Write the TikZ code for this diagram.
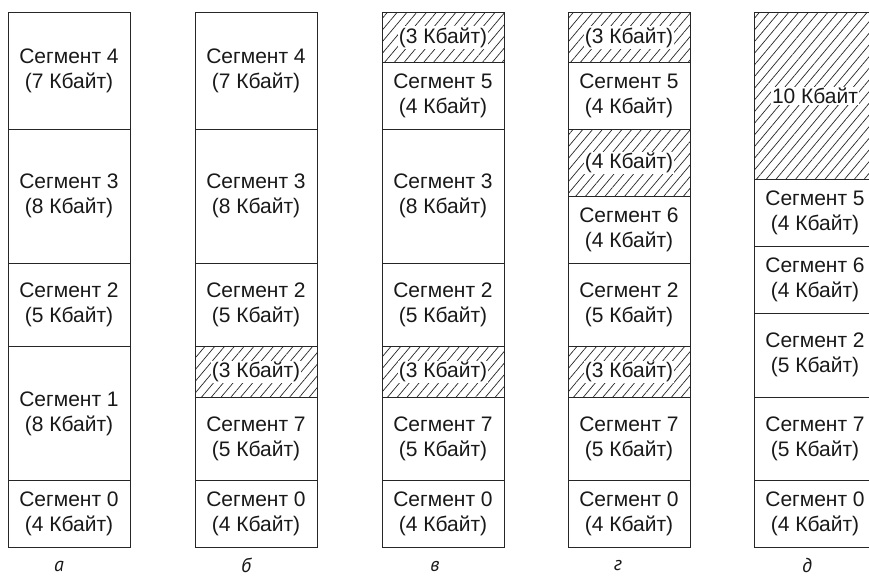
\documentclass[tikz,border=0pt]{standalone}
\usepackage{fontspec}
\setmainfont{Liberation Sans}
\newfontfamily\lblfont{PT Sans}
\usetikzlibrary{patterns.meta}
\tikzset{
  seg/.style={draw=black!85, line width=0.8pt, minimum width=122pt, inner sep=0pt,
    align=center, anchor=north, text=black!90, font=\fontsize{21}{25}\selectfont},
  hole/.style={seg, pattern={Lines[angle=50,distance=7.5pt,line width=0.7pt]}, pattern color=black!85},
  holetext/.style={fill=white, inner sep=1.2pt, text=black!90, font=\fontsize{21}{25}\selectfont},
  caption/.style={text=black!90, font=\lblfont\itshape\fontsize{20}{24}\selectfont}
}
\newcommand\putseg[5]{\node[seg, minimum height={#4*16.72pt}] (#1) at ({#2+61},{12+#3*16.72}) {#5};}
\newcommand\puthole[5]{\node[hole, minimum height={#4*16.72pt}] (#1) at ({#2+61},{12+#3*16.72}) {};
  \node[holetext] (#1t) at (#1.center) {#5};}
\begin{document}
\begin{tikzpicture}[x=1pt,y=-1pt]
\useasboundingbox (0,0) rectangle (869,579);
\fill[white] (0,0) rectangle (869,579);
\clip (0,0) rectangle (869,579);
% column a
\putseg{a4}{8}{0}{7}{Сегмент 4\\(7 Кбайт)}
\putseg{a3}{8}{7}{8}{Сегмент 3\\(8 Кбайт)}
\putseg{a2}{8}{15}{5}{Сегмент 2\\(5 Кбайт)}
\putseg{a1}{8}{20}{8}{Сегмент 1\\(8 Кбайт)}
\putseg{a0}{8}{28}{4}{Сегмент 0\\(4 Кбайт)}
% column b
\putseg{b4}{195}{0}{7}{Сегмент 4\\(7 Кбайт)}
\putseg{b3}{195}{7}{8}{Сегмент 3\\(8 Кбайт)}
\putseg{b2}{195}{15}{5}{Сегмент 2\\(5 Кбайт)}
\puthole{bh}{195}{20}{3}{(3 Кбайт)}
\putseg{b7}{195}{23}{5}{Сегмент 7\\(5 Кбайт)}
\putseg{b0}{195}{28}{4}{Сегмент 0\\(4 Кбайт)}
% column c
\puthole{ch1}{382}{0}{3}{(3 Кбайт)}
\putseg{c5}{382}{3}{4}{Сегмент 5\\(4 Кбайт)}
\putseg{c3}{382}{7}{8}{Сегмент 3\\(8 Кбайт)}
\putseg{c2}{382}{15}{5}{Сегмент 2\\(5 Кбайт)}
\puthole{ch2}{382}{20}{3}{(3 Кбайт)}
\putseg{c7}{382}{23}{5}{Сегмент 7\\(5 Кбайт)}
\putseg{c0}{382}{28}{4}{Сегмент 0\\(4 Кбайт)}
% column d
\puthole{dh1}{568}{0}{3}{(3 Кбайт)}
\putseg{d5}{568}{3}{4}{Сегмент 5\\(4 Кбайт)}
\puthole{dh2}{568}{7}{4}{(4 Кбайт)}
\putseg{d6}{568}{11}{4}{Сегмент 6\\(4 Кбайт)}
\putseg{d2}{568}{15}{5}{Сегмент 2\\(5 Кбайт)}
\puthole{dh3}{568}{20}{3}{(3 Кбайт)}
\putseg{d7}{568}{23}{5}{Сегмент 7\\(5 Кбайт)}
\putseg{d0}{568}{28}{4}{Сегмент 0\\(4 Кбайт)}
% column e
\puthole{eh}{754}{0}{10}{10 Кбайт}
\putseg{e5}{754}{10}{4}{Сегмент 5\\(4 Кбайт)}
\putseg{e6}{754}{14}{4}{Сегмент 6\\(4 Кбайт)}
\putseg{e2}{754}{18}{5}{Сегмент 2\\(5 Кбайт)}
\putseg{e7}{754}{23}{5}{Сегмент 7\\(5 Кбайт)}
\putseg{e0}{754}{28}{4}{Сегмент 0\\(4 Кбайт)}
% captions
\node[caption] (la) at (59,566) {а};
\node[caption] (lb) at (246,565) {б};
\node[caption] (lc) at (435,566) {в};
\node[caption] (ld) at (618,566) {г};
\node[caption] (le) at (807,565) {д};
\end{tikzpicture}
\end{document}
